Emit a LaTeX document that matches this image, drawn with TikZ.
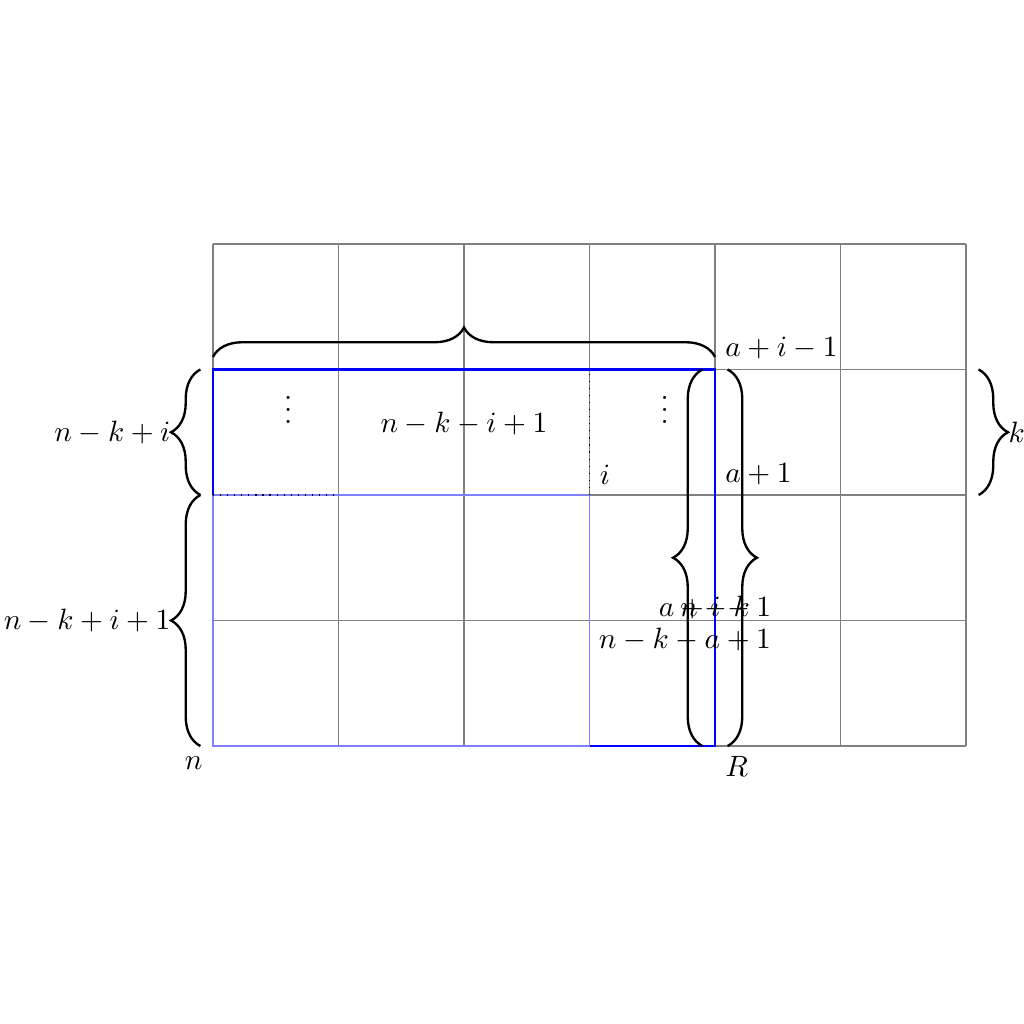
\documentclass[tikz,border=0pt]{standalone}
\usepackage{amsmath}
\usepackage{amssymb}
\usetikzlibrary{positioning,decorations.pathreplacing}

\begin{document}
\begin{tikzpicture}[x=1.5cm,y=1.5cm,
  brc/.style={decorate,decoration={brace,amplitude=10pt},thick},
  bigbox/.style={blue,thick},
  subbox/.style={blue!50,semithick}]
\useasboundingbox (-1.697,-2.215) rectangle (6.462,5.944);
\draw[gray,thin,step=1.5cm] (0,0) grid (6,4);
% the two blocks
\draw[subbox] (0,0) rectangle (3,2);
\draw[bigbox] (0,2) -- (0,3) -- (4,3) -- (4,0) -- (3,0);
\draw[dotted] (0,2) -- (1,2);
\draw[dotted] (3,2) -- (3,3);
% braces
\coordinate (tl) at (0,3.1);
\coordinate (tr) at (4,3.1);
\draw[brc] (tl) -- (tr);
\draw[brc] (-0.1,2) -- (-0.1,3) node[midway,left=6.5pt] (lup) {$n-k+i$};
\draw[brc] (-0.1,0) -- (-0.1,2) node[midway,left=6.5pt] (llow) {$n-k+i+1$};
\draw[brc] (3.9,0) -- (3.9,3);
\draw[brc] (4.1,3) -- (4.1,0);
\draw[brc] (6.1,3) -- (6.1,2) node[midway,right=6.5pt] (kk) {$k$};
% labels
\node (mid) at (2,2.57) {$n-k-i+1$};
\node (dl) at (0.6,2.75) {$\vdots$};
\node (dr) at (3.6,2.75) {$\vdots$};
\node[above right] (ai) at (4,3) {$a+i-1$};
\node[above right] (a1) at (4,2) {$a+1$};
\node[above right] (ii) at (3,2) {$i$};
\node[below right] (R) at (4,0) {$R$};
\node[below left] (n) at (0,0) {$n$};
\node (inl) at (4,1.1) {$a+i-1$};
\node (inr) at (4,1.1) {$n-k$};
\node (nka) at (3.76,0.845) {$n-k-a+1$};
\end{tikzpicture}
\end{document}
